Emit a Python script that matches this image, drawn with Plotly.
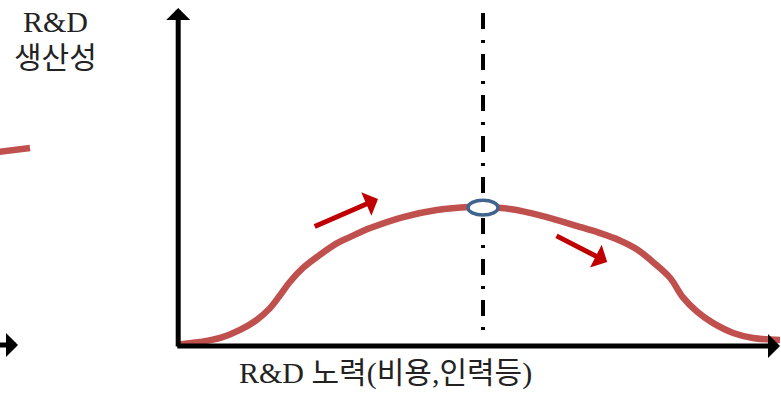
import plotly.graph_objects as go

# ---- data (effort / productivity in abstract units) ----
effort = [0, 0.5, 3.3, 6.7, 10.0, 12.8, 15.0, 16.7, 18.3, 20.5, 23.3, 26.2, 28.3, 31.7, 37.2,
          42.8, 48.3, 50.5, 55.0, 60.5, 66.2, 70.0, 73.3, 76.2, 78.8, 81.7, 83.8, 86.2, 88.8,
          92.2, 95.5, 100.0]
productivity = [0.1, 0.3, 0.9, 2.1, 4.5, 7.5, 11.0, 14.9, 18.8, 23.0, 26.9, 30.4, 32.2, 34.9, 38.2,
                40.3, 41.2, 41.2, 40.6, 38.5, 35.5, 33.4, 31.2, 28.5, 24.8, 20.0, 14.3, 9.9, 6.6,
                3.6, 2.1, 1.5]
peak_effort = 50.5
peak_prod = 41.0

# fragment of a neighbouring curve at the left edge
prev_effort = [-30.5, -25.0]
prev_prod = [57.6, 58.8]

# direction arrows: tail -> head
arrow_tail_x = [22.2, 62.5]
arrow_tail_y = [35.2, 32.8]
arrow_head_x = [33.0, 71.2]
arrow_head_y = [43.6, 24.8]

y_label_lines = ["R&D", "생산성"]
x_label = "R&D 노력(비용,인력등)"

# ---- figure ----
W, H = 781, 395
XR = [-30, -30 + W / 6]
YR = [-50 / 3.35, 345 / 3.35]

RED = "#c0504d"
ARROW_RED = "#c00000"
BLUE = "#41648f"
FONT = "Liberation Serif, 'Noto Sans CJK KR', serif"

fig = go.Figure()
fig.add_trace(go.Scatter(x=effort, y=productivity, mode="lines",
                         line=dict(color=RED, width=6.5, shape="spline", smoothing=1.0),
                         hoverinfo="skip"))
fig.add_trace(go.Scatter(x=prev_effort, y=prev_prod, mode="lines",
                         line=dict(color=RED, width=6.5), hoverinfo="skip"))

annotations = []
# axes arrows
ax_style = dict(xref="x", yref="y", axref="x", ayref="y", text="", showarrow=True,
                arrowhead=1, arrowwidth=5, arrowsize=0.8, arrowcolor="black", standoff=0)
annotations.append(dict(x=-0.3, y=100.6, ax=-0.3, ay=-0.9, **ax_style))
annotations.append(dict(x=100.0, y=-0.3, ax=-0.7, ay=-0.3, **ax_style))
annotations.append(dict(x=-27.0, y=0.0, ax=-31.0, ay=0.0, **ax_style))
for tx, ty, hx, hy in zip(arrow_tail_x, arrow_tail_y, arrow_head_x, arrow_head_y):
    annotations.append(dict(x=hx, y=hy, ax=tx, ay=ty, xref="x", yref="y", axref="x", ayref="y",
                            text="", showarrow=True, arrowhead=1, arrowwidth=5, arrowsize=0.85,
                            arrowcolor=ARROW_RED, standoff=0))
# labels
for line_text, cy in zip(y_label_lines, [22, 57]):
    annotations.append(dict(x=55 / W, y=1 - cy / H, xref="paper", yref="paper", text=line_text,
                            showarrow=False, font=dict(family=FONT, size=30, color="#222"),
                            xanchor="center", yanchor="middle"))
annotations.append(dict(x=385 / W, y=1 - 373 / H, xref="paper", yref="paper", text=x_label,
                        showarrow=False, font=dict(family=FONT, size=30, color="#222"),
                        xanchor="center", yanchor="middle"))

shapes = [
    dict(type="line", xref="x", yref="y", x0=peak_effort, x1=peak_effort, y0=99.1, y1=2.4,
         line=dict(color="black", width=4, dash="16px,11px,3px,11px"), layer="above"),
    dict(type="circle", xref="x", yref="y", x0=peak_effort - 2.5, x1=peak_effort + 2.5,
         y0=peak_prod - 2.2, y1=peak_prod + 2.2,
         line=dict(color=BLUE, width=3.5), fillcolor="white", layer="above"),
]

fig.update_layout(width=W, height=H, margin=dict(l=0, r=0, t=0, b=0),
                  paper_bgcolor="white", plot_bgcolor="white", showlegend=False,
                  xaxis=dict(range=XR, visible=False, fixedrange=True),
                  yaxis=dict(range=YR, visible=False, fixedrange=True),
                  annotations=annotations, shapes=shapes)

fig.write_html("out.html", config={"staticPlot": True},
               post_script="document.body.style.margin='0';document.body.style.overflow='hidden';")
